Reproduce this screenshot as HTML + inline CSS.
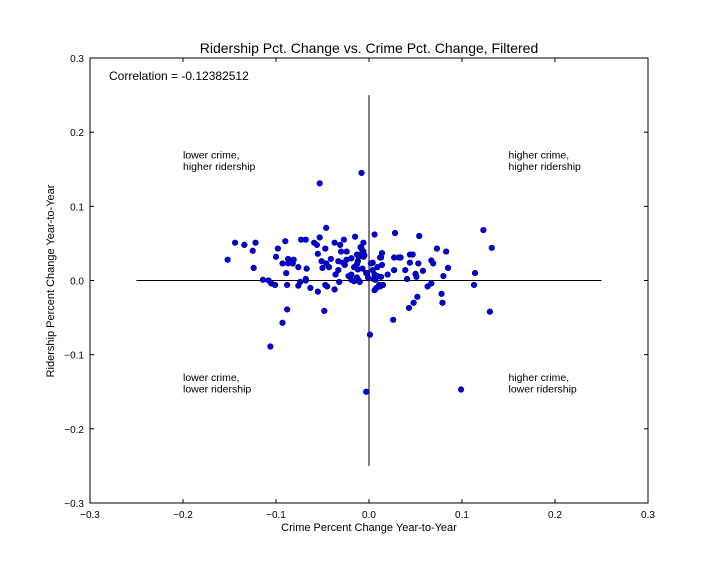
<!DOCTYPE html>
<html><head><meta charset="utf-8"><style>
html,body{margin:0;padding:0;background:#fff;}
svg{display:block;font-family:"Liberation Sans","DejaVu Sans",sans-serif;}
</style></head><body>
<svg id="chart" width="720" height="576" viewBox="0 0 720 576" xmlns="http://www.w3.org/2000/svg">
<rect width="720" height="576" fill="#fff"/>
<text x="369" y="53" text-anchor="middle" font-size="14">Ridership Pct. Change vs. Crime Pct. Change, Filtered</text>
<text x="369" y="531" text-anchor="middle" font-size="11">Crime Percent Change Year-to-Year</text>
<text transform="translate(54,281) rotate(-90)" text-anchor="middle" font-size="11">Ridership Percent Change Year-to-Year</text>
<g id="plot"></g>
</svg>
<script>
const xData = [-0.008,-0.053,-0.046,-0.144,-0.134,-0.122,-0.125,-0.152,-0.124,-0.090,-0.098,-0.100,-0.073,-0.068,-0.059,-0.056,-0.053,-0.047,-0.055,-0.087,-0.081,-0.093,-0.087,-0.082,-0.076,-0.067,-0.089,-0.051,-0.046,-0.050,-0.043,-0.041,-0.037,-0.031,-0.027,-0.015,-0.030,-0.024,-0.033,-0.028,-0.026,-0.024,-0.019,-0.033,-0.036,-0.022,-0.019,-0.013,-0.011,-0.006,-0.005,-0.009,-0.008,-0.006,-0.006,-0.008,-0.012,-0.013,-0.016,-0.012,-0.007,-0.003,-0.001,-0.114,-0.108,-0.105,-0.101,-0.088,-0.074,-0.076,-0.068,-0.068,-0.063,-0.055,-0.047,-0.045,-0.037,-0.032,-0.019,-0.013,-0.011,-0.016,-0.010,-0.088,-0.048,-0.093,0.006,0.028,0.054,0.123,0.132,0.073,0.083,0.014,0.012,0.013,0.027,0.032,0.034,0.044,0.047,0.004,0.002,0.014,0.009,0.044,0.053,0.067,0.069,0.085,0.027,0.039,0.058,0.004,-0.002,0.006,0.009,0.013,0.020,0.005,0.007,0.041,0.050,0.051,0.080,0.114,0.067,0.063,0.011,0.015,0.012,0.008,0.006,0.113,0.078,0.052,0.079,0.048,0.043,0.130,0.026,-0.106,-0.003,0.001,0.099];
const yData = [0.145,0.131,0.071,0.051,0.048,0.051,0.040,0.028,0.017,0.053,0.043,0.032,0.055,0.055,0.051,0.048,0.058,0.043,0.036,0.029,0.028,0.023,0.023,0.023,0.018,0.016,0.010,0.026,0.023,0.017,0.018,0.029,0.051,0.048,0.055,0.059,0.039,0.039,0.026,0.024,0.021,0.028,0.030,0.014,0.008,0.006,0.008,0.035,0.032,0.032,0.034,0.045,0.043,0.051,0.039,0.036,0.026,0.022,0.018,0.015,0.016,0.010,0.004,0.001,0.000,-0.004,-0.006,-0.006,-0.002,-0.007,0.002,0.000,-0.010,-0.015,-0.006,-0.008,-0.012,-0.002,0.001,0.004,0.000,-0.001,-0.002,-0.039,-0.041,-0.057,0.062,0.064,0.060,0.068,0.044,0.043,0.039,0.037,0.031,0.031,0.031,0.031,0.031,0.035,0.035,0.024,0.023,0.021,0.018,0.024,0.023,0.027,0.023,0.017,0.014,0.014,0.013,0.014,0.010,0.008,0.006,0.005,0.008,0.002,0.001,0.002,0.009,0.005,0.006,0.010,-0.004,-0.008,-0.006,-0.006,-0.008,-0.010,-0.013,-0.006,-0.018,-0.022,-0.030,-0.030,-0.037,-0.042,-0.053,-0.089,-0.150,-0.073,-0.147];
const xTicks = [-0.3,-0.2,-0.1,0.0,0.1,0.2,0.3];
const yTicks = [-0.3,-0.2,-0.1,0.0,0.1,0.2,0.3];
const tickLabels = ["\u22120.3","\u22120.2","\u22120.1","0.0","0.1","0.2","0.3"];
const correlationText = "Correlation = -0.12382512";

const L=90,R=648,T=58,B=503;
const xs = v => L + (v + 0.3) / 0.6 * (R - L);
const ys = v => B - (v + 0.3) / 0.6 * (B - T);
const NS="http://www.w3.org/2000/svg";
const g=document.getElementById('plot');
function mk(tag, attrs){const e=document.createElementNS(NS,tag);for(const k in attrs)e.setAttribute(k,attrs[k]);g.appendChild(e);return e;}

// frame
let fr=mk('rect',{x:L,y:T,width:R-L,height:B-T,fill:'none',stroke:'#000','stroke-width':1});



// cross lines
let hl=mk('line',{x1:xs(-0.25),x2:xs(0.25),y1:ys(0),y2:ys(0),stroke:'#000','stroke-width':1});


let vl=mk('line',{x1:xs(0),x2:xs(0),y1:ys(-0.25),y2:ys(0.25),stroke:'#000','stroke-width':1});



// ticks
xTicks.forEach((v,i)=>{
  const x=xs(v);
  const t1=mk('line',{x1:x,x2:x,y1:B,y2:B-4,stroke:'#000'});
  
  
  const t2=mk('line',{x1:x,x2:x,y1:T,y2:T+4,stroke:'#000'});
  
  
  const tx=mk('text',{x:x,y:B+15,'text-anchor':'middle','font-size':10});
  tx.textContent=tickLabels[i];
  
  
});
yTicks.forEach((v,i)=>{
  const y=ys(v);
  const t1=mk('line',{x1:L,x2:L+4,y1:y,y2:y,stroke:'#000'});
  
  
  const t2=mk('line',{x1:R,x2:R-4,y1:y,y2:y,stroke:'#000'});
  
  
  const tx=mk('text',{x:L-6,y:y+4,'text-anchor':'end','font-size':10});
  tx.textContent=tickLabels[i];
  
  
});

// points
for(let i=0;i<xData.length;i++){
  const c=mk('circle',{cx:xs(xData[i]),cy:ys(yData[i]),r:2.8,fill:'#0000e0',stroke:'#00006a','stroke-width':0.6});
  
  
}

// annotations
const notes=[[-0.2,0.17,"lower crime,","higher ridership","quadrant-label-top-left"],[0.15,0.17,"higher crime,","higher ridership","quadrant-label-top-right"],[-0.2,-0.13,"lower crime,","lower ridership","quadrant-label-bottom-left"],[0.15,-0.13,"higher crime,","lower ridership","quadrant-label-bottom-right"]];
notes.forEach(n=>{
  const t=mk('text',{x:xs(n[0]),y:ys(n[1])+4,'font-size':10.5});
  
  
  const a=document.createElementNS(NS,'tspan');a.setAttribute('x',xs(n[0]));a.textContent=n[2];t.appendChild(a);
  const b=document.createElementNS(NS,'tspan');b.setAttribute('x',xs(n[0]));b.setAttribute('dy','11.5');b.textContent=n[3];t.appendChild(b);
});
const ct=mk('text',{x:109,y:80,'font-size':12});
ct.textContent=correlationText;


</script>
</body></html>
